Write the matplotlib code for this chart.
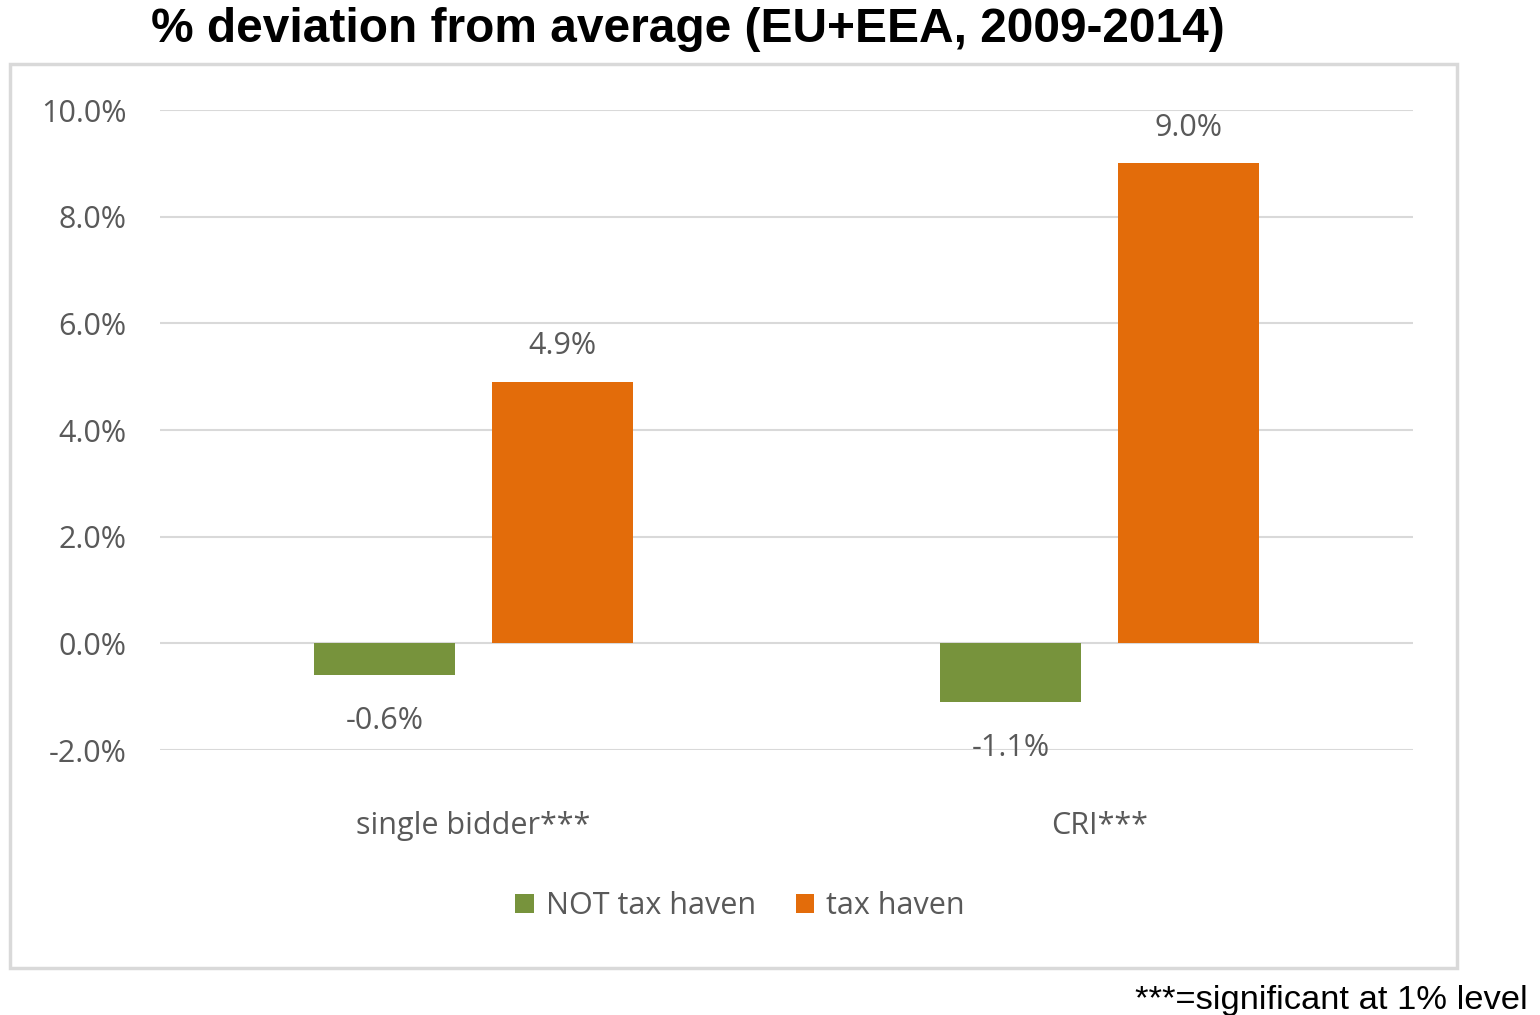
import matplotlib.pyplot as plt
from matplotlib.patches import Rectangle

categories = ["single bidder***", "CRI***"]
series_names = ["NOT tax haven", "tax haven"]
not_tax_haven = [-0.6, -1.1]
tax_haven = [4.9, 9.0]
yticks = [-2, 0, 2, 4, 6, 8, 10]

colors = ["#77933C", "#E36C0A"]
txt = "#595959"
font = "Open Sans"
fs = 22

fig = plt.figure(figsize=(15.4, 10.15), dpi=100)
ax = fig.add_axes([160 / 1540, 1 - 750 / 1015, (1413 - 160) / 1540, (750 - 110) / 1015])

# chart frame
fig.patches.append(Rectangle((10 / 1540, 1 - 968 / 1015), 1447 / 1540, 904 / 1015,
                             transform=fig.transFigure, fill=False,
                             edgecolor="#d9d9d9", linewidth=2.5))

x = range(len(categories))
w = 0.225
off = 0.142
for i, vals in enumerate([not_tax_haven, tax_haven]):
    pos = [xi + (i * 2 - 1) * off for xi in x]
    ax.bar(pos, vals, width=w, color=colors[i], label=series_names[i], zorder=3)
    for p, v in zip(pos, vals):
        dy = 15 if v >= 0 else -22
        ax.annotate(f"{v:.1f}%", (p, v), xytext=(0, dy), textcoords="offset points",
                    ha="center", va="bottom" if v >= 0 else "top",
                    fontsize=fs, color=txt, family=font)

ax.set_xlim(-0.5, 1.5)
ax.set_ylim(-2, 10)
ax.set_yticks(yticks)
ax.set_yticklabels([f"{t:.1f}%" for t in yticks], fontsize=fs, color=txt, family=font)
ax.set_xticks(list(x))
ax.set_xticklabels(categories, fontsize=fs, color=txt, family=font)
ax.tick_params(axis="y", length=0, pad=24)
ax.tick_params(axis="x", length=0, pad=44)
ax.grid(axis="y", color="#d9d9d9", linewidth=1.5, zorder=0)
for s in ax.spines.values():
    s.set_visible(False)

leg = ax.legend(loc="center", bbox_to_anchor=(740 / 1540, 1 - 906 / 1015),
                bbox_transform=fig.transFigure, ncol=2, frameon=False,
                handlelength=0.6, handleheight=0.6, handletextpad=0.4, columnspacing=1.3,
                prop={"family": font, "size": fs})
for t in leg.get_texts():
    t.set_color(txt)

fig.text(688 / 1540, 1 - 30 / 1015, "% deviation from average (EU+EEA, 2009-2014)",
         ha="center", va="center", fontsize=34.5, fontweight="bold", family="Liberation Sans")
fig.text(1528 / 1540, 1 - 1000 / 1015, "***=significant at 1% level",
         ha="right", va="center", fontsize=24.8, family="Liberation Sans")

fig.savefig("out.png", dpi=100)
